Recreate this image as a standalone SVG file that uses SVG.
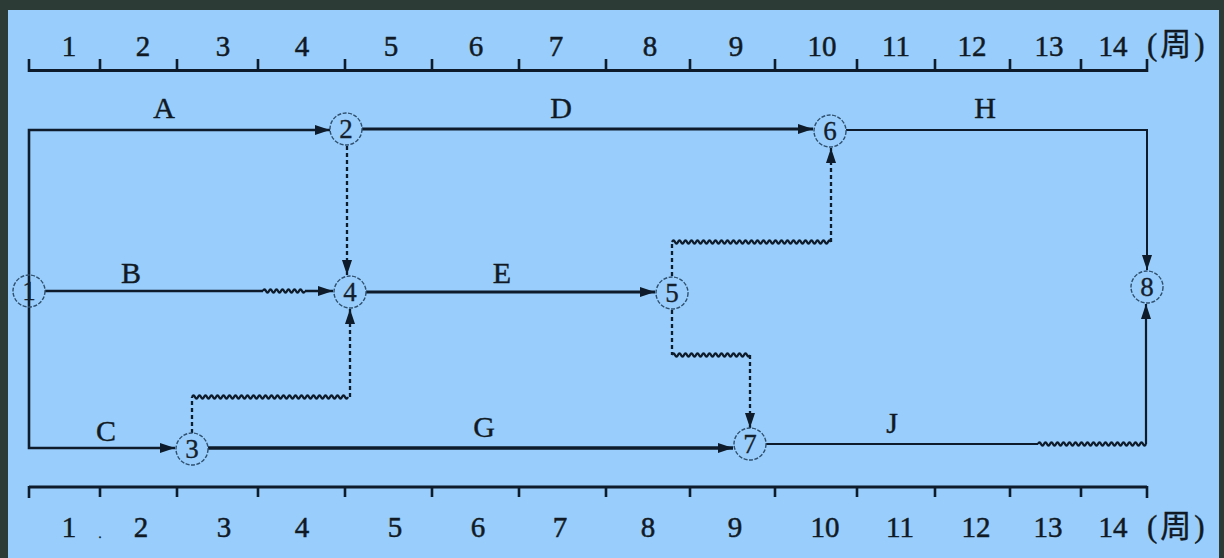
<svg xmlns="http://www.w3.org/2000/svg" width="1224" height="558" viewBox="0 0 1224 558">
<defs>
<marker id="arr" markerUnits="userSpaceOnUse" markerWidth="15" markerHeight="10" refX="15" refY="5" orient="auto">
<path d="M0,0 L15,5 L0,10 z" fill="#0d1b2a"/>
</marker>
<style>
.ax{stroke:#0d1b2a;stroke-width:3.2;fill:none}
.tk{stroke:#0d1b2a;stroke-width:2.6}
.num{font-family:"Liberation Serif",serif;font-size:29px;fill:#111a24;stroke:#111a24;stroke-width:0.5;text-anchor:middle}
.unit{font-family:"Liberation Serif","Noto Sans CJK SC",serif;font-size:31px;fill:#111a24;stroke:#111a24;stroke-width:0.4;letter-spacing:3px}
.lbl{font-family:"Liberation Serif",serif;font-size:30px;fill:#111a24;stroke:#111a24;stroke-width:0.4;text-anchor:middle}
.solid{stroke:#0d1b2a;fill:none}
.dash{stroke:#0d1b2a;fill:none;stroke-width:2.3;stroke-dasharray:4 3}
.wave{stroke:#0d1b2a;fill:none;stroke-width:2.2}
.nc{fill:none;stroke:#2f4f6e;stroke-width:1.4;stroke-dasharray:4 1.5}
.nt{font-family:"Liberation Serif",serif;font-size:27px;fill:#14202c;stroke:#14202c;stroke-width:0.3;text-anchor:middle}
</style>
</defs>
<rect x="0" y="0" width="1224" height="558" fill="#2d3b37"/>
<rect x="8" y="10" width="1211" height="548" fill="#99cdfb"/>

<g id="top-axis">
<path class="ax" d="M29,70.5 H1147"/>
<path class="tk" d="M29,72 V59 M100,71 V59 M177,71 V59 M258,71 V59 M345,71 V59 M432,71 V59 M519,71 V59 M606,71 V59 M690,71 V59 M775,71 V59 M857,71 V59 M935,71 V59 M1010,71 V59 M1081,71 V59 M1147,72 V59"/>
<text class="num" x="69" y="56">1</text>
<text class="num" x="143" y="56">2</text>
<text class="num" x="223" y="56">3</text>
<text class="num" x="302" y="56">4</text>
<text class="num" x="391" y="56">5</text>
<text class="num" x="476" y="56">6</text>
<text class="num" x="556" y="56">7</text>
<text class="num" x="650" y="56">8</text>
<text class="num" x="736" y="56">9</text>
<text class="num" x="822" y="56">10</text>
<text class="num" x="896" y="56">11</text>
<text class="num" x="972" y="56">12</text>
<text class="num" x="1049" y="56">13</text>
<text class="num" x="1113" y="56">14</text>
<text class="unit" x="1147" y="55">(周)</text>
</g>

<g id="bottom-axis">
<path class="ax" d="M29,487 H1147"/>
<path class="tk" d="M29,486 V498 M100,487 V497 M177,487 V497 M258,487 V497 M345,487 V497 M432,487 V497 M519,487 V497 M606,487 V497 M690,487 V497 M775,487 V497 M857,487 V497 M935,487 V497 M1010,487 V497 M1081,487 V497 M1147,486 V498"/>
<text class="num" x="69" y="537">1</text>
<text class="num" x="100" y="538" style="font-size:12px">.</text>
<text class="num" x="141" y="537">2</text>
<text class="num" x="224" y="537">3</text>
<text class="num" x="302" y="537">4</text>
<text class="num" x="395" y="537">5</text>
<text class="num" x="478" y="537">6</text>
<text class="num" x="560" y="537">7</text>
<text class="num" x="648" y="537">8</text>
<text class="num" x="735" y="537">9</text>
<text class="num" x="825" y="537">10</text>
<text class="num" x="900" y="537">11</text>
<text class="num" x="976" y="537">12</text>
<text class="num" x="1048" y="537">13</text>
<text class="num" x="1113" y="537">14</text>
<text class="unit" x="1147" y="537">(周)</text>
</g>

<g id="connectors">
<path class="solid" stroke-width="2.6" d="M29,291 V130 H330" marker-end="url(#arr)"/>
<path class="solid" stroke-width="2.6" d="M29,291 V448 H175" marker-end="url(#arr)"/>
<path class="solid" stroke-width="2.4" d="M45,291 H263 M305,291 H333" marker-end="url(#arr)"/>
<path class="wave" d="M263,291 q1.5,-3.5 3,0 t3,0 t3,0 t3,0 t3,0 t3,0 t3,0 t3,0 t3,0 t3,0 t3,0 t3,0 t3,0 t3,0"/>
<path class="solid" stroke-width="3" d="M362,129 H813" marker-end="url(#arr)"/>
<path class="solid" stroke-width="2" d="M846,130 H1147 V270" marker-end="url(#arr)"/>
<path class="dash" d="M347,146 V275" marker-end="url(#arr)"/>
<path class="solid" stroke-width="3" d="M366,292 H655" marker-end="url(#arr)"/>
<path class="dash" d="M192,433 V397"/>
<path class="wave" d="M192,397 q1.5,-3.5 3,0 t3,0 t3,0 t3,0 t3,0 t3,0 t3,0 t3,0 t3,0 t3,0 t3,0 t3,0 t3,0 t3,0 t3,0 t3,0 t3,0 t3,0 t3,0 t3,0 t3,0 t3,0 t3,0 t3,0 t3,0 t3,0 t3,0 t3,0 t3,0 t3,0 t3,0 t3,0 t3,0 t3,0 t3,0 t3,0 t3,0 t3,0 t3,0 t3,0 t3,0 t3,0 t3,0 t3,0 t3,0 t3,0 t3,0 t3,0 t3,0 t3,0 t3,0 t3,0"/>
<path class="dash" d="M350,397 V309" marker-end="url(#arr)"/>
<path class="solid" stroke-width="3.4" d="M208,448 H733" marker-end="url(#arr)"/>
<path class="dash" d="M672,276 V242"/>
<path class="wave" d="M672,242 q1.5,-3.5 3,0 t3,0 t3,0 t3,0 t3,0 t3,0 t3,0 t3,0 t3,0 t3,0 t3,0 t3,0 t3,0 t3,0 t3,0 t3,0 t3,0 t3,0 t3,0 t3,0 t3,0 t3,0 t3,0 t3,0 t3,0 t3,0 t3,0 t3,0 t3,0 t3,0 t3,0 t3,0 t3,0 t3,0 t3,0 t3,0 t3,0 t3,0 t3,0 t3,0 t3,0 t3,0 t3,0 t3,0 t3,0 t3,0 t3,0 t3,0 t3,0 t3,0 t3,0 t3,0 t3,0"/>
<path class="dash" d="M831,242 V148" marker-end="url(#arr)"/>
<path class="dash" d="M672,310 V355"/>
<path class="wave" d="M672,355 q1.5,-3.5 3,0 t3,0 t3,0 t3,0 t3,0 t3,0 t3,0 t3,0 t3,0 t3,0 t3,0 t3,0 t3,0 t3,0 t3,0 t3,0 t3,0 t3,0 t3,0 t3,0 t3,0 t3,0 t3,0 t3,0 t3,0 t3,0"/>
<path class="dash" d="M750,355 V428" marker-end="url(#arr)"/>
<path class="solid" stroke-width="2" d="M766,444 H1038"/>
<path class="wave" d="M1038,444 q1.5,-3.5 3,0 t3,0 t3,0 t3,0 t3,0 t3,0 t3,0 t3,0 t3,0 t3,0 t3,0 t3,0 t3,0 t3,0 t3,0 t3,0 t3,0 t3,0 t3,0 t3,0 t3,0 t3,0 t3,0 t3,0 t3,0 t3,0 t3,0 t3,0 t3,0 t3,0 t3,0 t3,0 t3,0 t3,0 t3,0 t3,0"/>
<path class="solid" stroke-width="2.2" d="M1146,444 V304" marker-end="url(#arr)"/>
<text class="lbl" x="164" y="118">A</text>
<text class="lbl" x="131" y="283">B</text>
<text class="lbl" x="106" y="441">C</text>
<text class="lbl" x="561" y="118">D</text>
<text class="lbl" x="502" y="283">E</text>
<text class="lbl" x="484" y="437">G</text>
<text class="lbl" x="985" y="118">H</text>
<text class="lbl" x="892" y="433">J</text>
</g>

<g id="node1"><circle class="nc" cx="29" cy="291" r="16"/><text class="nt" x="29" y="300">1</text></g>
<g id="node2"><circle class="nc" cx="346" cy="129" r="16"/><text class="nt" x="346" y="138">2</text></g>
<g id="node3"><circle class="nc" cx="192" cy="449" r="16"/><text class="nt" x="192" y="458">3</text></g>
<g id="node4"><circle class="nc" cx="350" cy="292" r="16"/><text class="nt" x="350" y="301">4</text></g>
<g id="node5"><circle class="nc" cx="672" cy="293" r="16"/><text class="nt" x="672" y="302">5</text></g>
<g id="node6"><circle class="nc" cx="830" cy="131" r="16"/><text class="nt" x="830" y="140">6</text></g>
<g id="node7"><circle class="nc" cx="750" cy="444" r="16"/><text class="nt" x="750" y="453">7</text></g>
<g id="node8"><circle class="nc" cx="1147" cy="287" r="16"/><text class="nt" x="1147" y="296">8</text></g>
</svg>
